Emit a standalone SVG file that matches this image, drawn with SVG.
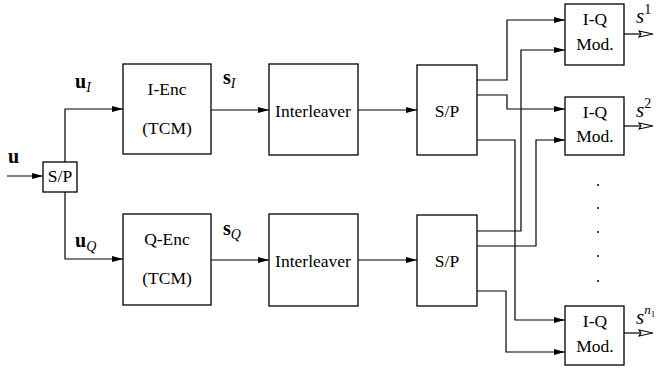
<svg xmlns="http://www.w3.org/2000/svg" width="662" height="372" viewBox="0 0 662 372">
<defs>
<marker id="arr" markerWidth="12" markerHeight="8" refX="11" refY="4" orient="auto" markerUnits="userSpaceOnUse">
<path d="M0,1 L11,4 L0,7 Z" fill="#000"/>
</marker>
<style>
.box{fill:#fff;stroke:#000;stroke-width:1.3}
.ln{fill:none;stroke:#000;stroke-width:1.2}
.t{font-family:"Liberation Serif","Times New Roman",serif;font-size:17.5px;fill:#000;text-anchor:middle}
.lb{font-family:"Liberation Serif","Times New Roman",serif;font-weight:bold;font-size:20px;fill:#000}
.it{font-family:"Liberation Serif","Times New Roman",serif;font-style:italic;fill:#000}
.dot{fill:#000}
.oa{fill:#fff;stroke:#000;stroke-width:1.1}
</style>
</defs>
<rect width="662" height="372" fill="#fff"/>

<g id="connectors">
<line class="ln" x1="7" y1="176" x2="43" y2="176" marker-end="url(#arr)"/>
<polyline class="ln" points="65,162 65,109 123,109" marker-end="url(#arr)"/>
<polyline class="ln" points="65,192 65,259 123,259" marker-end="url(#arr)"/>
<line class="ln" x1="211" y1="110" x2="269" y2="110" marker-end="url(#arr)"/>
<line class="ln" x1="358" y1="110" x2="417" y2="110" marker-end="url(#arr)"/>
<line class="ln" x1="211" y1="260" x2="269" y2="260" marker-end="url(#arr)"/>
<line class="ln" x1="358" y1="260" x2="417" y2="260" marker-end="url(#arr)"/>
<polyline class="ln" points="477,80 507,80 507,20 565,20" marker-end="url(#arr)"/>
<polyline class="ln" points="477,95 507,95 507,109 565,109" marker-end="url(#arr)"/>
<polyline class="ln" points="477,140 515,140 515,320 565,320" marker-end="url(#arr)"/>
<polyline class="ln" points="477,231 521,231 521,50 565,50" marker-end="url(#arr)"/>
<polyline class="ln" points="477,246 536,246 536,140 565,140" marker-end="url(#arr)"/>
<polyline class="ln" points="477,291 506,291 506,352 565,352" marker-end="url(#arr)"/>
<line class="ln" x1="624" y1="34" x2="640" y2="34"/>
<path class="oa" d="M639,31 L653,34 L639,37 L641,34 Z"/>
<line class="ln" x1="624" y1="126" x2="640" y2="126"/>
<path class="oa" d="M639,123 L653,126 L639,129 L641,126 Z"/>
<line class="ln" x1="624" y1="333" x2="640" y2="333"/>
<path class="oa" d="M639,330 L653,333 L639,336 L641,333 Z"/>
</g>

<g id="labels">
<text class="lb" x="8" y="163">u</text>
<text class="lb" x="75" y="88">u<tspan class="it" font-weight="normal" font-size="14" dy="4">I</tspan></text>
<text class="lb" x="75" y="247">u<tspan class="it" font-weight="normal" font-size="14" dy="4">Q</tspan></text>
<text class="lb" x="223" y="84">s<tspan class="it" font-weight="normal" font-size="14" dy="4">I</tspan></text>
<text class="lb" x="223" y="235">s<tspan class="it" font-weight="normal" font-size="14" dy="4">Q</tspan></text>
<text class="it" x="636" y="23" font-size="21">s<tspan font-style="normal" font-size="14" dy="-9">1</tspan></text>
<text class="it" x="636" y="117" font-size="21">s<tspan font-style="normal" font-size="14" dy="-9">2</tspan></text>
<text class="it" x="636" y="324" font-size="21">s<tspan font-size="13" dy="-10">n</tspan><tspan font-style="normal" font-size="9" dy="3">1</tspan></text>
</g>

<g id="sp_in">
<rect class="box" x="43" y="162" width="34" height="30"/>
<text class="t" x="60" y="182" font-size="16">S/P</text>
</g>
<g id="i_enc">
<rect class="box" x="123" y="64" width="88" height="90"/>
<text class="t" x="167" y="95">I-Enc</text>
<text class="t" x="167" y="134">(TCM)</text>
</g>
<g id="q_enc">
<rect class="box" x="123" y="214" width="88" height="91"/>
<text class="t" x="167" y="245">Q-Enc</text>
<text class="t" x="167" y="284">(TCM)</text>
</g>
<g id="interleaver_i">
<rect class="box" x="269" y="64" width="89" height="91"/>
<text class="t" x="313" y="117">Interleaver</text>
</g>
<g id="interleaver_q">
<rect class="box" x="269" y="214" width="89" height="92"/>
<text class="t" x="313" y="267">Interleaver</text>
</g>
<g id="sp_i">
<rect class="box" x="417" y="65" width="60" height="90"/>
<text class="t" x="447" y="117">S/P</text>
</g>
<g id="sp_q">
<rect class="box" x="417" y="215" width="60" height="91"/>
<text class="t" x="447" y="267">S/P</text>
</g>
<g id="iq1">
<rect class="box" x="565" y="4" width="59" height="61"/>
<text class="t" x="595" y="25">I-Q</text>
<text class="t" x="595" y="50">Mod.</text>
</g>
<g id="iq2">
<rect class="box" x="565" y="97" width="59" height="58"/>
<text class="t" x="595" y="118">I-Q</text>
<text class="t" x="595" y="142">Mod.</text>
</g>
<g id="iqn">
<rect class="box" x="565" y="306" width="59" height="59"/>
<text class="t" x="595" y="327">I-Q</text>
<text class="t" x="595" y="352">Mod.</text>
</g>
<g id="dots">
<circle class="dot" cx="598" cy="185" r="1"/>
<circle class="dot" cx="598" cy="208" r="1"/>
<circle class="dot" cx="598" cy="232" r="1"/>
<circle class="dot" cx="598" cy="256" r="1"/>
<circle class="dot" cx="598" cy="281" r="1"/>
</g>
</svg>
